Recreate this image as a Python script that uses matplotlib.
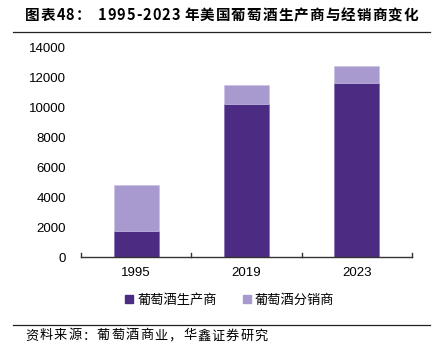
import matplotlib
matplotlib.use('Agg')
import matplotlib.pyplot as plt
from matplotlib.lines import Line2D
from matplotlib.patches import Patch

## data
years=['1995','2019','2023']
producers=[1750,10200,11600]
distributors=[3070,1270,1130]
yticks=[0,2000,4000,6000,8000,10000,12000,14000]

title_txt='图表48：  1995-2023 年美国葡萄酒生产商与经销商变化'
source_txt='资料来源：葡萄酒商业，华鑫证券研究'

plt.rcParams['font.family']=['Noto Sans CJK SC','DejaVu Sans']

dark='#4C2C82'
light='#A899CF'

W,H=439,352

def spaced_text(fig,x0,x1,y,s,**kw):
    # put the characters one by one, spread out from pixel x0 to x1
    r=fig.canvas.get_renderer()
    items=[]
    for ch in s:
        t=fig.text(0,y/H,ch,va='center',ha='left',**kw)
        w=t.get_window_extent(renderer=r).width if ch.strip() else 0
        items.append((t,w,ch))
    chars=[i for i in items if i[2].strip()]
    nsp=sum(1 for i in items if not i[2].strip())
    total=sum(i[1] for i in chars)
    gap=(x1-x0-total)/(len(items)-1+nsp*2)
    x=x0
    for t,w,ch in items:
        t.set_x(x/W)
        if ch.strip():
            x+=w+gap
        else:
            x+=3*gap

fig=plt.figure(figsize=(W/100,H/100),dpi=100)
ax=fig.add_axes([81/W,95/H,331/W,210/H])

x=list(range(len(years)))
ax.bar(x,producers,width=0.41,color=dark,edgecolor='#7A63AE',linewidth=0.4)
ax.bar(x,distributors,width=0.41,bottom=producers,color=light,edgecolor='#C9BEE3',linewidth=0.4)

ax.set_xlim(-0.5,2.5)
ax.set_ylim(0,14000)
ax.set_yticks(yticks)
ax.set_yticklabels([str(v) for v in yticks],family=['Liberation Sans'],fontsize=9.5)
ax.set_xticks(x)
ax.set_xticklabels(years,family=['Liberation Sans'],fontsize=9.5)
ax.tick_params(axis='y',length=0,pad=11)
ax.tick_params(axis='x',length=0,pad=7)
# little upward ticks at the category borders
for b in [-0.5,0.5,1.5,2.5]:
    ax.plot([b,b],[0,300],color='#333333',linewidth=1.0,clip_on=False)
for s in ['top','right','left']:
    ax.spines[s].set_visible(False)
ax.spines['bottom'].set_color('#333333')
ax.spines['bottom'].set_linewidth(1.0)

## title, rules, legend, source
spaced_text(fig,25,418,H-15,title_txt,fontsize=10.5,fontweight='bold')
fig.add_artist(Line2D([13/W,430/W],[1-32/H,1-32/H],color='#222222',linewidth=0.9))
fig.add_artist(Line2D([13/W,430/W],[1-325/H,1-325/H],color='#222222',linewidth=0.9))
spaced_text(fig,25,268,H-336,source_txt,fontsize=9.5)

handles=[Patch(color=dark,label='葡萄酒生产商'),Patch(color=light,label='葡萄酒分销商')]
fig.legend(handles=handles,loc='center',bbox_to_anchor=(230/W,1-300/H),ncol=2,frameon=False,
           fontsize=9.5,handlelength=0.6,handleheight=0.6,handletextpad=0.3,columnspacing=2.0)

fig.savefig('out.png',dpi=100)
